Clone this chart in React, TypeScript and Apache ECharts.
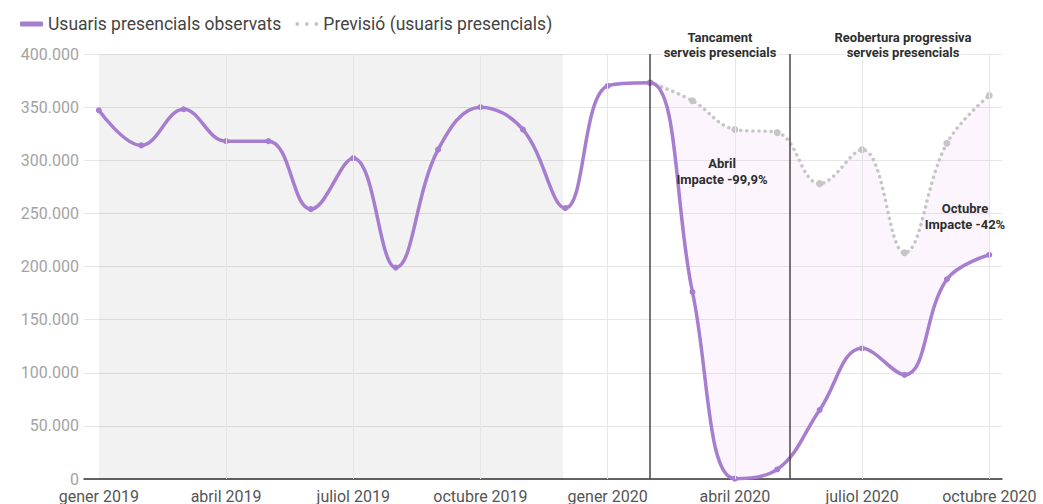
import React, { useEffect, useRef } from "react";
import * as echarts from "echarts";

const months = [
  "gener 2019", "febrer 2019", "març 2019", "abril 2019", "maig 2019", "juny 2019",
  "juliol 2019", "agost 2019", "setembre 2019", "octubre 2019", "novembre 2019", "desembre 2019",
  "gener 2020", "febrer 2020", "març 2020", "abril 2020", "maig 2020", "juny 2020",
  "juliol 2020", "agost 2020", "setembre 2020", "octubre 2020",
];
const tickIndices = [0, 3, 6, 9, 12, 15, 18, 21];
const observed = [
  347000, 314000, 348000, 318000, 318000, 254000, 302000, 199000, 310000, 350000, 329000, 255000,
  370000, 373000, 176000, 330, 9000, 65000, 123000, 98000, 188000, 211000,
];
const forecastStart = 13;
const forecast = [373000, 356000, 329000, 326000, 278000, 310000, 213000, 316000, 361000];
const eventLines = [13, 16.3];
const shadedRange = [0, 10.95];
const yTicks = { min: 0, max: 400000, interval: 50000 };

const PURPLE = "#a67dcf";
const GREY = "#c6c6c6";
const FONT = "Roboto";

const fmtThousands = (v: number) => String(v).replace(/\B(?=(\d{3})+(?!\d))/g, ".");

export default function App() {
  const ref = useRef<HTMLDivElement>(null);
  useEffect(() => {
    document.body.style.margin = "0";
    if (!ref.current) return;
    const chart = echarts.init(ref.current, null, { renderer: "svg" });

    const obsData = observed.map((v, i) => [i, v]);
    const fcData = forecast.map((v, i) => [i + forecastStart, v]);
    // gap band: starts one month earlier with zero width so its lower edge follows the observed curve
    const bandIdx = [forecastStart - 1, ...forecast.map((_, i) => i + forecastStart)];
    const bandTop = [observed[forecastStart - 1], ...forecast];
    // value first, index second, so the stack is applied to the y dimension
    const baseData = bandIdx.map((x) => [observed[x], x]);
    const gapData = bandIdx.map((x, k) => [bandTop[k] - observed[x], x]);
    const smooth = 0.4;

    chart.setOption({
      animation: false,
      textStyle: { fontFamily: FONT },
      grid: { left: 84, right: 41, top: 54, bottom: 25, containLabel: false },
      legend: {
        left: 15,
        top: 10,
        itemWidth: 23,
        itemHeight: 5,
        itemGap: 14,
        textStyle: { fontSize: 17.5, color: "#444", fontFamily: FONT },
        data: [
          { name: "Usuaris presencials observats", icon: "roundRect", itemStyle: { color: PURPLE } },
          {
            name: "Previsió (usuaris presencials)",
            icon:
              "path://M0,1a1,1 0 1,0 2,0a1,1 0 1,0 -2,0M5,1a1,1 0 1,0 2,0a1,1 0 1,0 -2,0M10,1a1,1 0 1,0 2,0a1,1 0 1,0 -2,0",
            itemStyle: { color: GREY },
          },
        ],
      },
      xAxis: {
        type: "value",
        min: -0.35,
        max: 21.3,
        axisLine: { show: true, onZero: true, lineStyle: { color: "#333", width: 1.5 } },
        axisTick: { show: false },
        splitLine: { show: false },
        axisLabel: {
          customValues: tickIndices,
          formatter: (v: number) => months[Math.round(v)] ?? "",
          color: "#555",
          fontSize: 16,
          fontFamily: FONT,
          margin: 9,
        },
      },
      yAxis: {
        type: "value",
        min: yTicks.min,
        max: yTicks.max,
        interval: yTicks.interval,
        axisLine: { show: false },
        axisTick: { show: false },
        splitLine: { lineStyle: { color: "#e6e6e6", width: 1 } },
        axisLabel: {
          formatter: (v: number) => fmtThousands(v),
          color: "#a3a3a3",
          fontSize: 16,
          fontFamily: FONT,
          margin: 5,
        },
      },
      graphic: [
        {
          type: "text",
          z: 100,
          style: {
            text: "Tancament\nserveis presencials",
            x: 720, y: 30, textAlign: "center", textVerticalAlign: "top",
            font: `bold 13px ${FONT}`, fill: "#2e2e2e", lineHeight: 15,
            stroke: "#fff", lineWidth: 4,
          },
        },
        {
          type: "text",
          z: 100,
          style: {
            text: "Reobertura progressiva\nserveis presencials",
            x: 903, y: 30, textAlign: "center", textVerticalAlign: "top",
            font: `bold 13px ${FONT}`, fill: "#2e2e2e", lineHeight: 15,
            stroke: "#fff", lineWidth: 4,
          },
        },
        {
          type: "text",
          z: 100,
          style: {
            text: "Abril\nImpacte -99,9%",
            x: 722, y: 155, textAlign: "center", textVerticalAlign: "top",
            font: `bold 13px ${FONT}`, fill: "#2e2e2e", lineHeight: 16,
          },
        },
        {
          type: "text",
          z: 100,
          style: {
            text: "Octubre\nImpacte -42%",
            x: 965, y: 200, textAlign: "center", textVerticalAlign: "top",
            font: `bold 13px ${FONT}`, fill: "#2e2e2e", lineHeight: 16,
          },
        },
      ],
      series: [
        {
          name: "base",
          type: "line",
          stack: "gap",
          data: baseData,
          encode: { x: 1, y: 0 },
          smooth,
          symbol: "none",
          silent: true,
          lineStyle: { opacity: 0 },
          z: 1,
          markArea: {
            silent: true,
            itemStyle: { color: "rgba(0,0,0,0.05)" },
            data: [[{ xAxis: shadedRange[0] }, { xAxis: shadedRange[1] }]],
          },
          markLine: {
            silent: true,
            symbol: ["none", "none"],
            label: { show: false },
            lineStyle: { color: "#e6e6e6", width: 1, type: "solid" },
            data: tickIndices.slice(1).map((x) => ({ xAxis: x })),
          },
        },
        {
          name: "gap",
          type: "line",
          stack: "gap",
          data: gapData,
          encode: { x: 1, y: 0 },
          smooth,
          symbol: "none",
          silent: true,
          lineStyle: { opacity: 0 },
          areaStyle: { color: "rgba(240,190,240,0.22)" },
          z: 2,
        },
        {
          name: "Previsió (usuaris presencials)",
          type: "line",
          data: fcData,
          smooth,
          symbol: "circle",
          symbolSize: 7,
          itemStyle: { color: GREY },
          lineStyle: { color: GREY, width: 3.5, type: [0.1, 6], cap: "round" },
          z: 3,
          markLine: {
            silent: true,
            symbol: ["none", "none"],
            label: { show: false },
            lineStyle: { color: "#4d4545", width: 1.5, type: "solid" },
            data: eventLines.map((x) => ({ xAxis: x })),
          },
        },
        {
          name: "Usuaris presencials observats",
          type: "line",
          data: obsData,
          smooth,
          symbol: "circle",
          symbolSize: 6,
          itemStyle: { color: PURPLE },
          lineStyle: { color: PURPLE, width: 3.5 },
          z: 4,
        },
      ],
    });
    return () => chart.dispose();
  }, []);
  return <div ref={ref} style={{ width: 1043, height: 504 }} />;
}
